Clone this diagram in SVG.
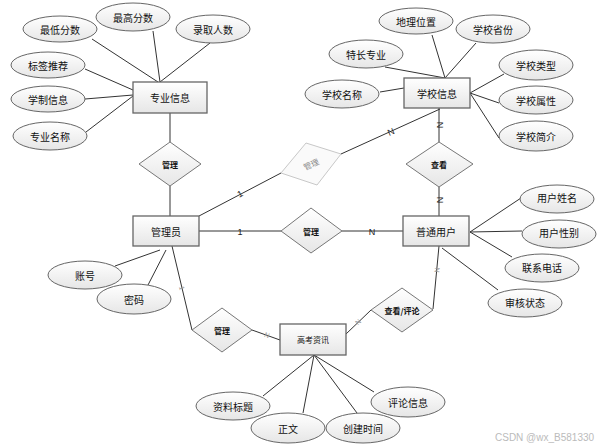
<svg xmlns="http://www.w3.org/2000/svg" width="608" height="447" viewBox="0 0 608 447">
<defs>
<linearGradient id="g" x1="0" y1="0" x2="0" y2="1">
<stop offset="0" stop-color="#ffffff"/>
<stop offset="1" stop-color="#e6e6e6"/>
</linearGradient>
<style>
.ent{fill:url(#g);stroke:#666;stroke-width:1.3}
.att{fill:url(#g);stroke:#666;stroke-width:1}
.rel{fill:url(#g);stroke:#777;stroke-width:1}
.relg{fill:#fafafa;stroke:#c8c8c8;stroke-width:1}
.t{font-family:"Noto Sans CJK SC","Liberation Sans",sans-serif;font-size:10px;fill:#111;text-anchor:middle;dominant-baseline:central}
.te{font-family:"Noto Sans CJK SC","Liberation Sans",sans-serif;font-size:10px;fill:#111;text-anchor:middle;dominant-baseline:central}
.tr{font-family:"Noto Sans CJK SC","Liberation Sans",sans-serif;font-size:8px;font-weight:bold;fill:#111;text-anchor:middle;dominant-baseline:central}
.tg{font-family:"Noto Sans CJK SC","Liberation Sans",sans-serif;font-size:8px;fill:#888;text-anchor:middle;dominant-baseline:central}
.card{font-family:"Liberation Sans",sans-serif;font-size:9px;fill:#222;text-anchor:middle;dominant-baseline:central}
.cardg{font-family:"Liberation Sans",sans-serif;font-size:7px;fill:#999;text-anchor:middle;dominant-baseline:central}
.ln{stroke:#333;stroke-width:1;fill:none}
.wm{font-family:"Liberation Sans",sans-serif;font-size:10px;fill:#bbb}
</style>
</defs>
<rect width="608" height="447" fill="#fff"/>
<g id="connectors">
<line class="ln" x1="92" y1="39" x2="158" y2="82"/>
<line class="ln" x1="153" y1="31" x2="160" y2="82"/>
<line class="ln" x1="210" y1="43" x2="160" y2="82"/>
<line class="ln" x1="85" y1="69" x2="133" y2="90"/>
<line class="ln" x1="85" y1="99" x2="133" y2="95"/>
<line class="ln" x1="86" y1="132" x2="133" y2="96"/>
<line class="ln" x1="170" y1="113" x2="170" y2="142"/>
<line class="ln" x1="170" y1="186" x2="170" y2="216"/>
<line class="ln" x1="432" y1="35" x2="445" y2="78"/>
<line class="ln" x1="476" y1="43" x2="445" y2="78"/>
<line class="ln" x1="385" y1="67" x2="445" y2="78"/>
<line class="ln" x1="380" y1="92" x2="404" y2="88"/>
<line class="ln" x1="504" y1="74" x2="470" y2="93"/>
<line class="ln" x1="499" y1="103" x2="470" y2="93"/>
<line class="ln" x1="499" y1="138" x2="470" y2="93"/>
<line class="ln" x1="439" y1="108" x2="439" y2="142"/>
<line class="ln" x1="439" y1="187" x2="439" y2="216"/>
<line class="ln" x1="440" y1="109" x2="341" y2="154"/>
<line class="ln" x1="199" y1="216" x2="281" y2="173"/>
<line class="ln" x1="199" y1="231" x2="281" y2="231"/>
<line class="ln" x1="342" y1="231" x2="403" y2="231"/>
<line class="ln" x1="470" y1="232" x2="521" y2="198"/>
<line class="ln" x1="470" y1="232" x2="522" y2="231"/>
<line class="ln" x1="470" y1="232" x2="512" y2="257"/>
<line class="ln" x1="442" y1="248" x2="498" y2="290"/>
<line class="ln" x1="439" y1="246" x2="433" y2="309"/>
<line class="ln" x1="371" y1="310" x2="346" y2="334"/>
<line class="ln" x1="172" y1="246" x2="192" y2="330"/>
<line class="ln" x1="252" y1="330" x2="280" y2="340"/>
<line class="ln" x1="160" y1="250" x2="115" y2="266"/>
<line class="ln" x1="166" y1="250" x2="148" y2="285"/>
<line class="ln" x1="314" y1="355" x2="263" y2="396"/>
<line class="ln" x1="314" y1="355" x2="303" y2="413"/>
<line class="ln" x1="314" y1="355" x2="357" y2="413"/>
<line class="ln" x1="314" y1="355" x2="374" y2="392"/>
<g id="cardinalities">
<text class="card" x="240" y="194" transform="rotate(-28 240 194)">1</text>
<text class="card" x="391" y="132" transform="rotate(-24 391 132)">N</text>
<text class="card" x="440" y="125" transform="rotate(90 440 125)">N</text>
<text class="card" x="440" y="200" transform="rotate(90 440 200)">N</text>
<text class="card" x="240" y="232">1</text>
<text class="card" x="372" y="232">N</text>
<text class="cardg" x="182" y="288" transform="rotate(76 182 288)">1</text>
<text class="cardg" x="267" y="335" transform="rotate(20 267 335)">N</text>
<text class="cardg" x="358" y="322" transform="rotate(-44 358 322)">N</text>
<text class="cardg" x="437" y="270" transform="rotate(-85 437 270)">N</text>
</g>
</g>
<g id="e-zhuanye"><rect class="ent" x="133" y="82" width="74" height="31"/><text class="te" x="170" y="97.5">专业信息</text></g>
<g id="e-xuexiao"><rect class="ent" x="404" y="78" width="66" height="30"/><text class="te" x="437" y="93">学校信息</text></g>
<g id="e-guanliyuan"><rect class="ent" x="133" y="216" width="66" height="30"/><text class="te" x="166" y="231">管理员</text></g>
<g id="e-yonghu"><rect class="ent" x="403" y="216" width="66" height="30"/><text class="te" x="436" y="231">普通用户</text></g>
<g id="e-zixun"><rect class="ent" x="280" y="324" width="66" height="31"/><text class="tr" x="313" y="339.5" style="font-weight:normal">高考资讯</text></g>
<g id="r-guanli1"><polygon class="rel" points="139,164 170,142 201,164 170,186"/><text class="tr" x="170" y="164">管理</text></g>
<g id="r-guanli2"><polygon class="rel" points="281,231 311,208 342,231 311,253"/><text class="tr" x="311" y="231">管理</text></g>
<g id="r-chakan"><polygon class="rel" points="406,164 439,142 473,164 439,187"/><text class="tr" x="439" y="164">查看</text></g>
<g id="r-guanli-g"><polygon class="relg" points="281,173 306,143 341,154 317,185"/><text class="tg" x="311" y="164" transform="rotate(-25 311 164)">管理</text></g>
<g id="r-guanli3"><polygon class="rel" points="192,330 222,308 252,330 222,352"/><text class="tr" x="222" y="330">管理</text></g>
<g id="r-pinglun"><polygon class="rel" points="371,310 402,288 433,310 402,332"/><text class="tr" x="402" y="310">查看/评论</text></g>
<g id="a-zuidi"><ellipse class="att" cx="60" cy="29" rx="37" ry="13"/><text class="t" x="60" y="29">最低分数</text></g>
<g id="a-zuigao"><ellipse class="att" cx="133" cy="17" rx="37" ry="14"/><text class="t" x="133" y="17">最高分数</text></g>
<g id="a-luqu"><ellipse class="att" cx="213" cy="29" rx="37" ry="14"/><text class="t" x="213" y="29">录取人数</text></g>
<g id="a-biaoqian"><ellipse class="att" cx="48" cy="65" rx="37" ry="13"/><text class="t" x="48" y="65">标签推荐</text></g>
<g id="a-xuezhi"><ellipse class="att" cx="48" cy="99" rx="37" ry="13"/><text class="t" x="48" y="99">学制信息</text></g>
<g id="a-zymc"><ellipse class="att" cx="50" cy="136" rx="37" ry="14"/><text class="t" x="50" y="136">专业名称</text></g>
<g id="a-dili"><ellipse class="att" cx="416" cy="21" rx="37" ry="13"/><text class="t" x="416" y="21">地理位置</text></g>
<g id="a-shengfen"><ellipse class="att" cx="493" cy="29" rx="37" ry="14"/><text class="t" x="493" y="29">学校省份</text></g>
<g id="a-techang"><ellipse class="att" cx="366" cy="54" rx="37" ry="14"/><text class="t" x="366" y="54">特长专业</text></g>
<g id="a-xxmc"><ellipse class="att" cx="342" cy="94" rx="37" ry="14"/><text class="t" x="342" y="94">学校名称</text></g>
<g id="a-leixing"><ellipse class="att" cx="536" cy="65" rx="37" ry="15"/><text class="t" x="536" y="65">学校类型</text></g>
<g id="a-shuxing"><ellipse class="att" cx="536" cy="100" rx="37" ry="14"/><text class="t" x="536" y="100">学校属性</text></g>
<g id="a-jianjie"><ellipse class="att" cx="536" cy="136" rx="37" ry="15"/><text class="t" x="536" y="136">学校简介</text></g>
<g id="a-xingming"><ellipse class="att" cx="557" cy="199" rx="37" ry="14"/><text class="t" x="557" y="197">用户姓名</text></g>
<g id="a-xingbie"><ellipse class="att" cx="559" cy="234" rx="37" ry="14"/><text class="t" x="559" y="232">用户性别</text></g>
<g id="a-dianhua"><ellipse class="att" cx="542" cy="268" rx="37" ry="14"/><text class="t" x="542" y="267">联系电话</text></g>
<g id="a-shenhe"><ellipse class="att" cx="525" cy="303" rx="37" ry="14"/><text class="t" x="525" y="302">审核状态</text></g>
<g id="a-zhanghao"><ellipse class="att" cx="85" cy="275" rx="37" ry="14"/><text class="t" x="85" y="275">账号</text></g>
<g id="a-mima"><ellipse class="att" cx="134" cy="299" rx="37" ry="15"/><text class="t" x="134" y="299">密码</text></g>
<g id="a-biaoti"><ellipse class="att" cx="233" cy="406" rx="37" ry="14"/><text class="t" x="233" y="406">资料标题</text></g>
<g id="a-zhengwen"><ellipse class="att" cx="288" cy="428" rx="37" ry="15"/><text class="t" x="288" y="428">正文</text></g>
<g id="a-chuangjian"><ellipse class="att" cx="363" cy="428" rx="37" ry="15"/><text class="t" x="363" y="428">创建时间</text></g>
<g id="a-pinglun"><ellipse class="att" cx="408" cy="402" rx="37" ry="15"/><text class="t" x="408" y="402">评论信息</text></g>
<text class="wm" x="495" y="441">CSDN @wx_B581330</text>
</svg>
